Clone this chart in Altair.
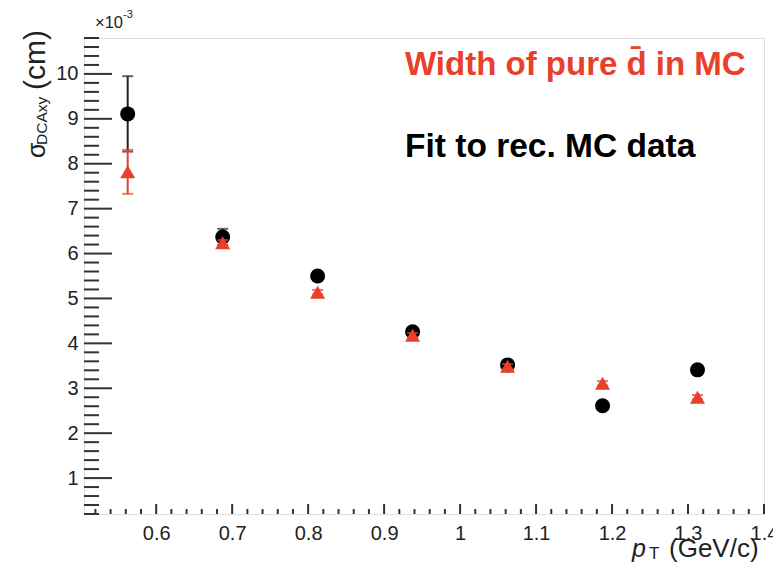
import altair as alt
import pandas as pd
import numpy as np

# ---- data (values in units of 1e-3 cm) ----
pt = [0.5625, 0.6875, 0.8125, 0.9375, 1.0625, 1.1875, 1.3125]
fit_vals = [9.11, 6.37, 5.50, 4.26, 3.52, 2.61, 3.41]
fit_errs = [0.84, 0.18, 0.05, 0.05, 0.05, 0.05, 0.05]
mc_vals = [7.82, 6.24, 5.14, 4.18, 3.49, 3.11, 2.80]
mc_errs = [0.49, 0.06, 0.05, 0.05, 0.05, 0.05, 0.05]

x_major = [0.6, 0.7, 0.8, 0.9, 1.0, 1.1, 1.2, 1.3, 1.4]
y_major = [1, 2, 3, 4, 5, 6, 7, 8, 9, 10]

X_DOM = [0.505, 1.4]
Y_DOM = [0.2, 10.8]
W, H = 680, 476
RED = "#e8402a"
FONT = "Liberation Sans"

fit = pd.DataFrame({"pt": pt, "v": fit_vals,
                    "lo": [v - e for v, e in zip(fit_vals, fit_errs)],
                    "hi": [v + e for v, e in zip(fit_vals, fit_errs)]})
mc = pd.DataFrame({"pt": pt, "v": mc_vals,
                   "lo": [v - e for v, e in zip(mc_vals, mc_errs)],
                   "hi": [v + e for v, e in zip(mc_vals, mc_errs)]})

x_minor = [round(v, 2) for v in np.arange(0.52, 1.4001, 0.02)
           if all(abs(v - m) > 1e-6 for m in x_major)]
y_minor = [round(v, 1) for v in np.arange(0.2, 10.8001, 0.2)
           if all(abs(v - m) > 1e-6 for m in y_major)]

xs = alt.Scale(domain=X_DOM, nice=False, zero=False)
ys = alt.Scale(domain=Y_DOM, nice=False, zero=False)

x_axis = alt.Axis(values=x_major, format="~g", title=None, domain=False, ticks=False,
                  tickSize=0, grid=False, labelFontSize=20, labelFont=FONT,
                  labelColor="#222", labelPadding=9, labelFlush=False)
y_axis = alt.Axis(values=y_major, format="d", title=None, domain=False, ticks=False,
                  tickSize=0, grid=False, labelFontSize=20, labelFont=FONT,
                  labelColor="#222", labelPadding=6)

base_axes = alt.Chart(pd.DataFrame({"x": [1.0], "y": [5.0]})).mark_point(opacity=0).encode(
    x=alt.X("x:Q", scale=xs, axis=x_axis),
    y=alt.Y("y:Q", scale=ys, axis=y_axis),
)

# ticks (inward, ROOT style)
def yticks(vals, length):
    return alt.Chart(pd.DataFrame({"y": vals})).mark_rule(color="#333", strokeWidth=2).encode(
        y=alt.Y("y:Q", scale=ys), x=alt.value(0), x2=alt.value(length))

def xticks(vals, length):
    return alt.Chart(pd.DataFrame({"x": vals})).mark_rule(color="#333", strokeWidth=2).encode(
        x=alt.X("x:Q", scale=xs), y=alt.value(H), y2=alt.value(H - length))

tick_layers = [yticks(y_major, 28), yticks(y_minor, 15), xticks(x_major, 10), xticks(x_minor, 5)]

def series(df, color, shape, line_color):
    bar = alt.Chart(df).mark_rule(color=line_color, strokeWidth=2).encode(
        x=alt.X("pt:Q", scale=xs), y=alt.Y("lo:Q", scale=ys), y2="hi:Q")
    cap_lo = alt.Chart(df).mark_tick(color=line_color, orient="horizontal", size=11, thickness=2).encode(
        x=alt.X("pt:Q", scale=xs), y=alt.Y("lo:Q", scale=ys))
    cap_hi = alt.Chart(df).mark_tick(color=line_color, orient="horizontal", size=11, thickness=2).encode(
        x=alt.X("pt:Q", scale=xs), y=alt.Y("hi:Q", scale=ys))
    pts = alt.Chart(df).mark_point(shape=shape, filled=True, color=color, size=225, opacity=1).encode(
        x=alt.X("pt:Q", scale=xs), y=alt.Y("v:Q", scale=ys))
    return [bar, cap_lo, cap_hi, pts]

one = pd.DataFrame({"a": [0]})

def txt(s, x, y, size, color="#000", weight="normal", style="normal", angle=0, align="left"):
    kw = dict(font=FONT, fontSize=size, color=color, fontWeight=weight, fontStyle=style,
              align=align, baseline="alphabetic")
    if angle:
        kw["angle"] = angle
    return alt.Chart(one).mark_text(**kw).encode(
        text=alt.value(s), x=alt.value(x), y=alt.value(y))

texts = [
    txt("Width of pure d\u0304 in MC", 321, 37, 33, color=RED, weight="bold"),
    txt("Fit to rec. MC data", 321, 119, 33.5, color="#000", weight="bold"),
    txt("\u00d710", 11, -10, 16.5, color="#222"),
    txt("-3", 39, -20, 11, color="#222"),
    # x title: p_T (GeV/c)
    txt("p", 548, 519, 25, color="#222", style="italic"),
    txt("T", 565, 521, 17, color="#222"),
    txt("(GeV/c)", 585, 519, 26, color="#222"),
    # y title: sigma_DCAxy (cm)
    txt("\u03c3", -39, 120, 25, color="#222", angle=270),
    txt("DCAxy", -37, 107, 15.5, color="#222", angle=270),
    txt("(cm)", -39, 52, 30, color="#222", angle=270),
]

layers = [base_axes] + tick_layers + series(fit, "#000", "circle", "#222") \
    + series(mc, RED, "triangle-up", RED) + texts

chart = alt.layer(*layers).properties(
    width=W, height=H,
    autosize=alt.AutoSizeParams(type="none"),
    padding={"left": 76, "top": 30, "right": 9, "bottom": 49},
).configure_view(stroke="#333", strokeWidth=2).configure(background="white")

chart.save("out.html", embed_options={"renderer": "svg", "actions": False})
